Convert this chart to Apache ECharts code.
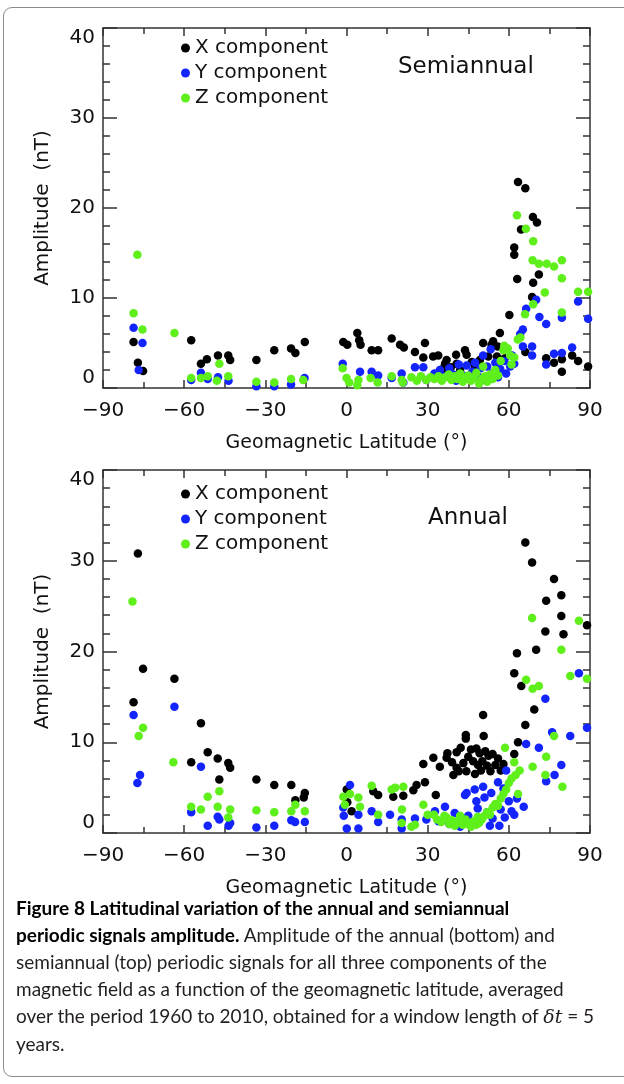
<!DOCTYPE html>
<html>
<head>
<meta charset="utf-8">
<script src="https://cdn.jsdelivr.net/npm/echarts@6/dist/echarts.min.js"></script>
<style>
  html, body { margin: 0; padding: 0; background: #fff; }
  body { width: 624px; height: 1084px; position: relative; overflow: hidden; }
  #frame {
    position: absolute; left: 3px; top: 7px; width: 680px; height: 1070px;
    border: 1.5px solid #8c8c8c; border-radius: 9px; box-sizing: border-box;
  }
  #chart { position: absolute; left: 0; top: 0; width: 624px; height: 900px; }
  #caption {
    position: absolute; left: 16px; top: 894px;
    font-family: Lato, "Open Sans", sans-serif; font-size: 19px; line-height: 27px;
    color: #231f20; white-space: nowrap;
  }
  #caption b { color: #000; }
  .math { font-family: "DejaVu Serif", serif; font-style: italic; }
</style>
</head>
<body>
<div id="frame"></div>
<div id="chart"></div>
<div id="caption"><b>Figure 8 Latitudinal variation of the annual and semiannual</b><br><b>periodic signals amplitude.</b> Amplitude of the annual (bottom) and<br>semiannual (top) periodic signals for all three components of the<br>magnetic field as a function of the geomagnetic latitude, averaged<br>over the period 1960 to 2010, obtained for a window length of <span class="math">δt</span> = 5<br>years.</div>
<script>
// [geomagnetic latitude, amplitude nT]
const semiX = [
  [-78.7,5.1],[-77.1,2.8],[-75.2,1.9],[-57.4,5.3],[-53.8,2.7],[-51.6,3.2],[-47.5,3.6],[-43.7,3.6],[-43.0,3.1],
  [-33.3,3.1],[-26.7,4.2],[-20.5,4.4],[-18.9,3.9],[-15.4,5.1],
  [-1.2,5.1],[0.3,4.8],[4.0,6.1],[4.7,5.3],[5.2,4.8],[9.3,4.2],[11.7,4.2],[16.7,5.5],[19.8,4.8],[21.2,4.5],
  [25.3,4.0],[28.4,3.4],[29.0,5.0],[32.0,3.5],[33.9,3.6],[35.5,2.1],[36.4,2.7],[37.0,3.1],[38.6,2.3],[40.5,3.7],
  [40.7,2.7],[42.0,2.0],[43.8,4.2],[44.4,3.7],[46.3,2.9],[47.5,2.3],[49.3,3.1],[50.5,5.0],[52.4,3.5],[53.6,4.8],
  [54.2,5.2],[55.6,3.5],[55.9,4.6],[56.7,6.1],[58.5,3.3],
  [60.2,8.1],[62.0,15.6],[62.0,14.8],[63.1,12.1],[63.4,22.9],[64.5,17.6],[66.1,22.2],[66.1,4.0],[68.6,10.1],
  [69.0,11.7],[68.9,19.0],[70.4,18.4],[71.1,12.6],
  [73.8,3.3],[76.7,2.8],[79.6,3.2],[79.6,1.8],[83.4,3.6],[85.6,3.0],[89.3,2.4]
];
const semiY = [
  [-78.7,6.7],[-75.4,5.0],[-76.8,2.0],[-57.4,0.9],[-53.8,1.7],[-51.3,1.0],[-47.5,1.2],[-43.6,0.8],
  [-33.3,0.2],[-26.7,0.2],[-20.5,0.4],[-15.5,1.1],
  [-1.4,2.7],[5.0,1.8],[9.3,1.8],[11.7,1.4],[16.7,1.1],[20.4,1.6],[21.0,0.6],
  [25.3,2.3],[28.4,2.3],[29.5,0.9],[32.5,1.6],[34.5,2.0],[36.4,1.3],[38.0,2.2],[39.5,1.5],[40.5,0.8],[41.5,2.6],
  [43.0,1.4],[44.4,2.5],[45.5,1.0],[46.5,1.8],[47.5,2.8],[48.5,1.3],[49.5,2.2],[50.5,3.6],[51.0,0.9],[52.0,2.4],
  [53.3,4.3],[53.8,1.6],[55.0,2.8],[56.0,1.2],[56.8,2.1],[58.3,3.0],[59.0,1.6],[60.5,2.4],[61.2,3.6],[62.0,2.7],
  [64.2,6.0],[65.2,6.5],[65.2,4.6],[66.4,8.8],[68.6,4.6],[68.6,3.6],[70.1,9.8],[71.3,7.9],[73.8,7.1],[73.8,2.6],
  [76.7,3.8],[79.6,3.9],[79.6,7.8],[83.4,4.5],[85.6,9.6],[89.3,7.7]
];
const semiZ = [
  [-78.7,8.3],[-77.3,14.8],[-75.4,6.5],[-63.6,6.1],[-57.4,1.1],[-53.8,1.1],[-51.3,1.3],[-47.0,2.7],[-47.9,0.8],[-43.7,1.3],
  [-33.3,0.7],[-26.7,0.6],[-20.5,1.0],[-16.0,0.9],
  [-1.4,2.2],[0.0,1.1],[1.0,0.6],[4.0,0.3],[4.4,0.9],[8.9,1.1],[11.5,0.6],[16.7,1.3],[20.4,0.9],[20.8,0.6],
  [24.0,1.2],[26.0,0.8],[27.5,1.3],[29.5,0.9],[31.0,1.2],[32.5,1.0],[34.0,1.3],[35.2,0.8],[36.5,1.2],[37.8,1.5],
  [38.8,0.9],[40.0,1.3],[41.0,1.0],[42.0,1.6],[43.0,0.7],[44.0,1.2],[45.0,1.4],[46.0,0.8],[47.0,1.1],[48.0,1.7],
  [49.0,0.5],[50.0,1.0],[50.5,2.4],[51.2,1.3],[52.0,0.7],[53.0,1.5],[54.0,1.0],[55.0,2.0],[56.0,1.4],[57.0,3.0],
  [58.0,4.2],[58.3,4.7],[59.6,4.4],[60.5,3.6],[61.0,2.6],[62.0,3.4],
  [63.0,19.2],[63.3,5.4],[64.3,5.6],[66.0,8.2],[66.3,17.7],[68.8,14.2],[69.0,16.3],[69.0,9.3],[71.1,13.8],
  [73.3,10.6],[74.0,13.8],[76.7,13.5],[79.6,14.2],[79.6,12.2],[79.6,8.4],[85.6,10.7],[89.3,10.7]
];

const annX = [
  [-78.7,14.4],[-77.1,30.8],[-75.2,18.1],[-63.6,17.0],[-57.4,7.8],[-53.8,12.1],[-51.3,8.9],[-47.6,8.2],[-47.0,5.9],
  [-43.7,7.7],[-43.0,7.2],
  [-33.3,5.9],[-26.7,5.3],[-20.4,5.3],[-18.9,3.6],[-15.4,4.4],[-15.8,3.9],
  [0.1,4.8],[1.9,2.4],[0.3,3.4],[9.9,4.6],[11.7,4.2],[17.3,4.0],[21.0,4.1],[24.7,4.7],[25.9,5.3],[29.0,5.6],[33.0,4.2],
  [28.4,7.6],[32.1,8.3],[34.5,7.3],[37.3,8.8],[37.0,8.3],[39.0,7.8],[39.5,6.4],[40.7,8.9],[40.7,7.2],[41.5,6.8],
  [42.2,9.4],[43.2,7.7],[44.1,10.8],[44.1,10.4],[44.3,6.8],[45.0,8.4],[46.0,9.2],[46.8,7.9],[47.5,6.5],[48.0,9.3],
  [48.6,7.5],[49.2,8.8],[49.7,6.9],[50.2,7.9],[50.5,13.0],[50.7,10.7],[51.3,9.0],[52.0,7.4],[52.5,8.5],[53.2,6.8],
  [54.0,8.7],[55.0,7.5],[56.0,8.2],[57.0,6.9],[58.0,7.6],
  [62.0,8.7],[62.0,17.6],[63.0,19.8],[63.4,10.0],[64.6,16.2],[66.1,11.9],[66.1,32.0],[68.6,29.8],[69.4,13.6],
  [70.1,20.2],[73.5,22.2],[73.8,25.6],[76.7,28.0],[79.4,26.2],[79.4,23.9],[80.2,21.9],[88.9,22.9]
];
const annY = [
  [-78.7,13.0],[-77.3,5.5],[-76.3,6.4],[-63.6,13.9],[-57.4,2.3],[-53.8,7.3],[-51.3,0.8],[-47.6,1.8],[-47.0,1.5],
  [-43.6,0.8],[-43.0,1.1],
  [-33.3,0.6],[-26.7,0.8],[-20.4,1.4],[-19.0,1.2],[-15.4,1.2],
  [-1.2,2.8],[-1.0,1.9],[1.3,5.3],[0.1,0.5],[4.4,2.0],[4.4,0.5],[9.3,2.4],[11.7,1.2],[16.1,2.0],[20.4,1.5],[20.4,0.5],
  [25.3,1.6],[29.5,1.5],[32.7,2.4],[34.0,1.3],[36.4,2.9],[38.0,1.0],[40.0,2.2],[42.0,0.7],[43.8,4.2],[44.4,4.4],
  [45.0,1.9],[46.0,0.9],[47.4,4.8],[48.0,3.5],[48.5,2.7],[49.0,1.2],[50.5,5.1],[51.0,3.9],[52.0,2.3],[53.0,0.8],
  [53.5,4.4],[54.0,1.6],[55.0,3.1],[56.0,5.6],[56.5,0.8],[57.0,2.6],[58.0,4.9],[58.5,1.7],[59.0,6.9],[60.0,3.5],
  [61.0,2.4],[62.0,2.0],[63.0,3.8],
  [65.5,2.9],[66.4,9.8],[71.1,9.4],[73.5,14.8],[73.8,5.7],[76.0,11.1],[76.9,6.4],[79.4,7.5],[82.7,10.7],
  [85.9,17.6],[88.9,11.6]
];
const annZ = [
  [-79.1,25.5],[-75.2,11.6],[-76.8,10.7],[-64.0,7.8],[-57.4,2.9],[-53.8,2.6],[-51.3,4.0],[-47.6,2.9],[-47.0,4.6],
  [-43.0,2.6],[-43.7,1.7],
  [-33.3,2.5],[-26.7,2.3],[-20.4,2.4],[-18.9,3.1],[-15.4,2.4],
  [-1.2,4.0],[1.3,4.3],[-0.6,3.1],[4.4,3.9],[5.0,2.9],[9.3,5.2],[11.7,2.0],[16.7,4.8],[18.0,5.0],[21.0,5.1],
  [20.4,1.1],[20.5,2.6],
  [24.0,0.7],[25.3,0.9],[28.4,3.1],[30.0,2.0],[32.3,2.0],[33.5,1.5],[35.0,1.2],[36.2,1.9],[37.0,1.7],[38.0,1.0],
  [39.0,1.4],[40.0,0.8],[41.0,1.2],[42.0,1.9],[43.0,0.9],[44.0,1.5],[45.0,1.0],[46.0,0.7],[47.0,1.3],[48.0,0.9],
  [48.5,1.8],[49.0,1.1],[50.0,1.5],[51.0,1.9],[52.0,2.3],[53.0,2.0],[54.0,2.8],[55.0,3.2],[56.0,3.0],[57.0,3.8],
  [58.0,4.3],[58.6,9.4],[59.0,4.8],[60.0,5.5],[61.0,6.0],[62.0,7.8],[62.5,6.4],[63.4,4.3],[64.0,6.9],
  [66.4,16.9],[68.6,23.7],[68.8,15.9],[68.8,7.3],[71.1,16.2],[73.5,6.4],[73.8,8.4],[76.7,10.7],[79.4,20.2],
  [79.8,5.1],[82.7,17.3],[85.9,23.4],[88.9,17.0]
];

const componentNames = ['X component', 'Y component', 'Z component'];
const componentColors = ['#000000', '#1424ff', '#5ff01c'];
const panelTitles = ['Semiannual', 'Annual'];
const xTitle = 'Geomagnetic Latitude (°)';
const yTitle = 'Amplitude  (nT)';

const font = 'DejaVu Sans';
const ink = '#333';
const chart = echarts.init(document.getElementById('chart'));

// minus sign like the original tick labels
const latLabel = v => (v < 0 ? '\u2212' + Math.abs(v) : String(v));

function xAxes(gi) {
  const base = {
    type: 'value', gridIndex: gi, min: -90, max: 90, interval: 30,
    axisLine: { show: true, onZero: false, lineStyle: { color: ink, width: 1.5 } },
    axisTick: { inside: true, length: 8, lineStyle: { color: ink, width: 1.5 } },
    minorTick: { show: true, splitNumber: 2, length: 6, lineStyle: { color: ink, width: 1.5 } },
    splitLine: { show: false }
  };
  return [
    Object.assign({}, base, {
      position: 'bottom',
      name: xTitle, nameLocation: 'middle', nameGap: 46,
      nameTextStyle: { fontFamily: font, fontSize: 19, color: '#111' },
      axisLabel: { formatter: latLabel, margin: 13, fontFamily: font, fontSize: 20, color: '#111' }
    }),
    Object.assign({}, base, { position: 'top', axisLabel: { show: false } })
  ];
}

function yAxes(gi) {
  const base = {
    type: 'value', gridIndex: gi, min: 0, max: 40, interval: 10,
    axisLine: { show: true, onZero: false, lineStyle: { color: ink, width: 1.5 } },
    axisTick: { inside: true, length: 14, lineStyle: { color: ink, width: 1.5 } },
    minorTick: { show: true, splitNumber: 5, length: 7, lineStyle: { color: ink, width: 1.5 } },
    splitLine: { show: false }
  };
  return [
    Object.assign({}, base, {
      position: 'left',
      name: yTitle, nameLocation: 'middle', nameRotate: 90, nameGap: 50,
      nameTextStyle: { fontFamily: font, fontSize: 20, color: '#111' },
      axisLabel: {
        margin: 8, fontFamily: font, fontSize: 20, color: '#111',
        verticalAlignMaxLabel: 'top', verticalAlignMinLabel: 'bottom'
      }
    }),
    Object.assign({}, base, { position: 'right', axisLabel: { show: false } })
  ];
}

function scatter(data, k, gi) {
  return {
    type: 'scatter', name: componentNames[k], data: data,
    xAxisIndex: gi * 2, yAxisIndex: gi * 2,
    symbolSize: 8.5, itemStyle: { color: componentColors[k], opacity: 1 },
    silent: true
  };
}

function legend(top) {
  return {
    top: top, left: 176, orient: 'vertical', icon: 'circle',
    itemWidth: 9, itemHeight: 9, itemGap: 5, selectedMode: false,
    data: componentNames,
    textStyle: { fontFamily: font, fontSize: 20, color: '#111' }
  };
}

chart.setOption({
  animation: false,
  grid: [
    { left: 103, top: 28, width: 487, height: 360 },
    { left: 103, top: 470, width: 487, height: 363 }
  ],
  xAxis: xAxes(0).concat(xAxes(1)),
  yAxis: yAxes(0).concat(yAxes(1)),
  legend: [legend(33), legend(479)],
  graphic: [
    { type: 'text', left: 398, top: 56, style: { text: panelTitles[0], font: '23px "DejaVu Sans"', fill: '#111' } },
    { type: 'text', left: 428, top: 507, style: { text: panelTitles[1], font: '23px "DejaVu Sans"', fill: '#111' } }
  ],
  series: [
    scatter(semiX, 0, 0), scatter(semiY, 1, 0), scatter(semiZ, 2, 0),
    scatter(annX, 0, 1), scatter(annY, 1, 1), scatter(annZ, 2, 1)
  ]
});
</script>
</body>
</html>
